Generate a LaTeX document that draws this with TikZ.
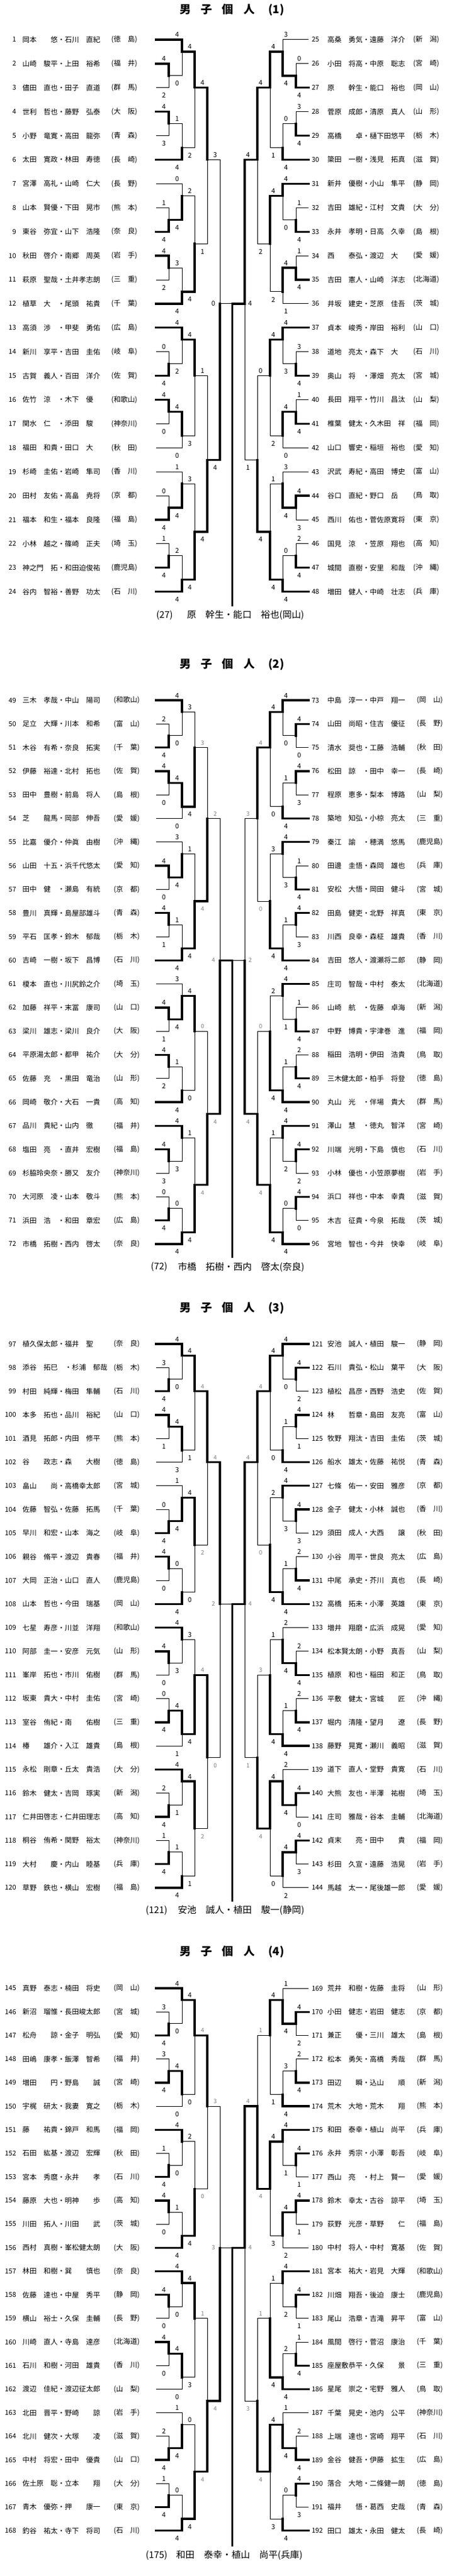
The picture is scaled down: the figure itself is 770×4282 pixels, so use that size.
\documentclass[tikz,border=0pt]{standalone}
\usepackage{fontspec}
\newfontfamily\jpf{Noto Sans CJK JP}

\tikzset{
  ent/.style={inner sep=0pt, font=\jpf\fontsize{8.8pt}{10pt}\selectfont},
  entno/.style={inner sep=0pt, font=\jpf\fontsize{8.4pt}{10pt}\selectfont},
  sc/.style={inner sep=0pt, font=\jpf\fontsize{8.4pt}{10pt}\selectfont},
  scg/.style={inner sep=0pt, text=black!50, font=\jpf\fontsize{7.4pt}{9pt}\selectfont},
  hs/.style={sc},
  lose/.style={line width=0.75pt},
  win/.style={line width=2.5pt, line cap=rect},
  ttl/.style={inner sep=0pt, font=\jpf\bfseries\fontsize{14pt}{16pt}\selectfont},
  capt/.style={inner sep=0pt, font=\jpf\fontsize{11.5pt}{13pt}\selectfont}
}

% one match: x top start, x bottom start, x junction, rows top/bottom/out, scores, label style
\newcommand\mtch[9]{%
  \pgfmathsetmacro\yt{\yo+\dy*(#4)}%
  \pgfmathsetmacro\yb{\yo+\dy*(#5)}%
  \pgfmathsetmacro\yu{\yo+\dy*(#6)}%
  \ifnum#7>#8\relax
    \draw[lose] (#2,\yb) -- (#3,\yb) -- (#3,\yu);
    \draw[win] (#1,\yt) -- (#3,\yt) -- (#3,\yu);
  \else
    \draw[lose] (#1,\yt) -- (#3,\yt) -- (#3,\yu);
    \draw[win] (#2,\yb) -- (#3,\yb) -- (#3,\yu);
  \fi
  \node[#9] at (#3-\lo,\yt-8) {#7};
  \node[#9] at (#3-\lo,\yb+13) {#8};
}

% one half of a draw: 4 groups of 6, then the two rounds above them
\newcommand\halfbr[4]{%
  \foreach \gb/\go/\qa/\qb/\qc/\qd/\qe/\qf/\qg/\qh/\qi/\qj in {#1}{
    \mtch{259}{259}{280}{\gb+1}{\gb+2}{\gb+1.5}{\qa}{\qb}{sc}
    \mtch{259}{280}{302}{\gb}{\gb+1.5}{\gb+0.5}{\qc}{\qd}{sc}
    \mtch{259}{259}{280}{\gb+3}{\gb+4}{\gb+3.5}{\qe}{\qf}{sc}
    \mtch{280}{259}{302}{\gb+3.5}{\gb+5}{\gb+4.5}{\qg}{\qh}{sc}
    \mtch{302}{302}{323}{\gb+0.5}{\gb+4.5}{\go}{\qi}{\qj}{sc}
  }
  \mtch{323}{323}{344}{2}{8.5}{5}#2{hs}
  \mtch{323}{323}{344}{14}{20.5}{17.5}#3{hs}
  \mtch{344}{344}{365}{5}{17.5}{11}#4{hs}
}

\newcommand\finalm[2]{%
  \pgfmathsetmacro\yf{\yo+\dy*11}%
  \ifnum#1>#2\relax
    \draw[lose] (406,\yf) -- (385.5,\yf);
    \draw[win] (365,\yf) -- (385.5,\yf) -- (385.5,\ye);
  \else
    \draw[lose] (365,\yf) -- (385.5,\yf);
    \draw[win] (406,\yf) -- (385.5,\yf) -- (385.5,\ye);
  \fi
  \node[hs] at (354,\yf) {#1};
  \node[hs] at (415,\yf) {#2};
}

\newcommand\entL[2]{%
  \foreach \nm/\pf [count=\k from 0] in {#2}{
    \pgfmathsetmacro\yy{\yo+\dy*\k}
    \pgfmathtruncatemacro\nn{#1+\k}
    \node[entno, anchor=east] (n\nn) at (27,\yy) {\nn};
    \node[ent, anchor=west] (e\nn) at (37,\yy) {\nm};
    \node[ent, anchor=east] (p\nn) at (\pl,\yy) {(\pf)};
  }
}
\newcommand\entR[2]{%
  \foreach \nm/\pf [count=\k from 0] in {#2}{
    \pgfmathsetmacro\yy{\yo+\dy*\k}
    \pgfmathtruncatemacro\nn{#1+\k}
    \node[entno, anchor=west] (n\nn) at (517,\yy) {\nn};
    \node[ent, anchor=west] (e\nn) at (543,\yy) {\nm};
    \node[ent, anchor=east] (p\nn) at (\pr,\yy) {(\pf)};
  }
}

\begin{document}
\begin{tikzpicture}[x=0.75pt, y=-0.75pt]
\fill[white] (0,0) rectangle (770,4282);
\useasboundingbox (0,0) rectangle (770,4282);
\def\lo{8}

% ---------- (1)
\def\yo{66}\def\dy{39.9}\def\ye{1006}\def\pl{228}\def\pr{729}
\tikzset{hs/.style={sc}}
\node[ttl] (t1) at (385,16) {男\hspace{12.5pt}子\hspace{12.5pt}個\hspace{12.5pt}人\hspace{17pt}(1)};
\halfbr{0/2/4/2/4/0/4/3/1/4/4/2, 6/8.5/1/4/0/4/4/2/3/4/2/4,
  12/14/0/4/4/2/4/0/4/0/4/3, 18/20.5/0/4/1/4/1/4/2/4/3/4}{{4}{1}}{{1}{4}}{{3}{4}}
\begin{scope}[shift={(771,0)}, xscale=-1]
\def\lo{5.5}
\halfbr{0/2/0/4/3/4/3/4/0/4/4/1, 6/8.5/1/4/4/0/1/4/4/1/4/2,
  12/14/3/4/4/3/1/4/4/0/4/2, 18/20.5/4/3/3/4/2/4/0/4/1/4}{{4}{2}}{{0}{4}}{{4}{1}}
\end{scope}
\finalm{0}{4}
\entL{1}{岡本　　悠・石川　直紀/徳　島,
山崎　駿平・上田　裕希/福　井,
儘田　直也・田子　直道/群　馬,
世利　哲也・藤野　弘泰/大　阪,
小野　竜寛・高田　龍弥/青　森,
太田　寛政・林田　寿徳/長　崎,
宮澤　高礼・山崎　仁大/長　野,
山本　賢優・下田　晃市/熊　本,
東谷　弥宜・山下　浩隆/奈　良,
秋田　啓介・南郷　周英/岩　手,
萩原　聖哉・土井孝志朗/三　重,
植草　大　・尾頭　祐貴/千　葉,
高須　渉　・甲斐　勇佑/広　島,
新川　享平・吉田　圭佑/岐　阜,
古賀　義人・百田　洋介/佐　賀,
佐竹　涼　・木下　優　/和歌山,
関水　仁　・添田　駿　/神奈川,
福田　和貴・田口　大　/秋　田,
杉崎　圭佑・岩崎　隼司/香　川,
田村　友佑・高畠　尭将/京　都,
福本　和生・福本　良隆/福　島,
小林　越之・篠崎　正夫/埼　玉,
神之門　拓・和田迫俊祐/鹿児島,
谷内　智裕・善野　功太/石　川}
\entR{25}{高桑　勇気・遠藤　洋介/新　潟,
小田　将高・中原　聡志/宮　崎,
原　　幹生・能口　裕也/岡　山,
菅原　成郎・清原　真人/山　形,
高橋　　卓・樋下田悠平/栃　木,
簗田　一樹・浅見　拓真/滋　賀,
新井　優樹・小山　隼平/静　岡,
吉田　雄紀・江村　文貴/大　分,
永井　孝明・日高　久幸/島　根,
西　　泰弘・渡辺　大　/愛　媛,
吉田　憲人・山崎　洋志/北海道,
井坂　建史・芝原　佳吾/茨　城,
貞本　峻秀・岸田　裕利/山　口,
道地　亮太・森下　大　/石　川,
奥山　将　・澤畑　亮太/宮　城,
長田　翔平・竹川　昌汰/山　梨,
椎葉　健太・久木田　祥/福　岡,
山口　響史・稲垣　裕也/愛　知,
沢武　寿紀・高田　博史/富　山,
谷口　直紀・野口　岳　/鳥　取,
西川　佑也・菅佐原寛将/東　京,
国見　涼　・笠原　翔也/高　知,
城間　直樹・安里　和哉/沖　縄,
増田　健人・中崎　壮志/兵　庫}
\node[capt, anchor=east] (w1n) at (287,1023) {(27)};
\node[capt, anchor=west] (w1) at (310,1023) {原　幹生・能口　裕也(岡山)};

% ---------- (2)
\def\yo{1164}\def\dy{39.3}\def\ye{2089}\def\pl{232}\def\pr{735}
\tikzset{hs/.style={scg}}
\node[ttl] (t2) at (385,1104) {男\hspace{12.5pt}子\hspace{12.5pt}個\hspace{12.5pt}人\hspace{17pt}(2)};
\halfbr{0/2/2/4/4/0/4/0/4/0/3/4, 6/8.5/4/0/3/4/4/1/1/4/1/4,
  12/14/4/1/3/4/4/2/1/4/4/0, 18/20.5/4/3/4/3/0/4/0/4/1/4}{{3}{4}}{{0}{4}}{{2}{4}}
\begin{scope}[shift={(771,0)}, xscale=-1]
\def\lo{5.5}
\halfbr{0/2/4/0/4/0/4/3/1/4/4/0, 6/8.5/1/4/4/3/4/3/1/4/3/4,
  12/14/1/4/4/1/2/4/1/4/2/4, 18/20.5/4/2/4/2/4/0/0/4/1/4}{{4}{0}}{{0}{4}}{{3}{4}}
\end{scope}
\finalm{4}{2}
\entL{49}{三木　孝哉・中山　陽司/和歌山,
足立　大輝・川本　和希/富　山,
木谷　有希・奈良　拓実/千　葉,
伊藤　裕達・北村　拓也/佐　賀,
田中　豊樹・前島　将人/島　根,
芝　　龍馬・岡部　伸吾/愛　媛,
比嘉　優介・仲眞　由樹/沖　縄,
山田　十五・浜千代悠太/愛　知,
田中　健　・瀬島　有統/京　都,
豊川　真輝・島屋部雄斗/青　森,
平石　匡孝・鈴木　郁哉/栃　木,
吉崎　一樹・坂下　昌博/石　川,
榎本　直也・川尻鈴之介/埼　玉,
加藤　祥平・末冨　康司/山　口,
梁川　雄志・梁川　良介/大　阪,
平原湯太郎・都甲　祐介/大　分,
佐藤　充　・黒田　竜治/山　形,
岡崎　敬介・大石　一貴/高　知,
品川　貴紀・山内　徹　/福　井,
塩田　亮　・直井　宏樹/福　島,
杉脇玲央奈・勝又　友介/神奈川,
大河原　凌・山本　敬斗/熊　本,
浜田　浩　・和田　章宏/広　島,
市橋　拓樹・西内　啓太/奈　良}
\entR{73}{中島　淳一・中戸　翔一/岡　山,
山田　尚昭・住吉　優征/長　野,
清水　奨也・工藤　浩輔/秋　田,
松田　諒　・田中　幸一/長　崎,
程原　恵多・梨本　博路/山　梨,
築地　知弘・小椋　亮太/三　重,
秦江　諭　・穂満　悠馬/鹿児島,
田邊　圭悟・森岡　雄也/兵　庫,
安松　大悟・岡田　健斗/宮　城,
田島　健吏・北野　祥真/東　京,
川西　良幸・森柾　雄貴/香　川,
吉田　悠人・渡瀬将二郎/静　岡,
庄司　智哉・中村　泰太/北海道,
山崎　航　・佐藤　卓海/新　潟,
中野　博貴・宇津巻　進/福　岡,
稲田　浩明・伊田　浩貴/鳥　取,
三木健太郎・柏手　将登/徳　島,
丸山　光　・伴場　貴大/群　馬,
澤山　慧　・徳丸　智洋/宮　崎,
川端　光明・下島　慎也/石　川,
小林　優也・小笠原夢樹/岩　手,
浜口　祥也・中本　幸貴/滋　賀,
木吉　征貴・今泉　拓哉/茨　城,
宮地　智也・今井　快幸/岐　阜}
\node[capt, anchor=east] (w2n) at (278,2106) {(72)};
\node[capt, anchor=west] (w2) at (295,2106) {市橋　拓樹・西内　啓太(奈良)};

% ---------- (3)
\def\yo{2234}\def\dy{39.3}\def\ye{3159}\def\pl{232}\def\pr{735}
\node[ttl] (t3) at (385,2174) {男\hspace{12.5pt}子\hspace{12.5pt}個\hspace{12.5pt}人\hspace{17pt}(3)};
\halfbr{0/2/3/4/4/0/4/1/4/3/4/1, 6/8.5/0/4/1/4/4/0/0/4/4/0,
  12/14/4/0/4/3/0/4/4/1/3/4, 18/20.5/2/4/4/1/1/4/1/4/4/1}{{4}{2}}{{4}{2}}{{4}{0}}
\begin{scope}[shift={(771,0)}, xscale=-1]
\def\lo{5.5}
\halfbr{0/2/4/2/4/0/4/1/1/4/4/0, 6/8.5/4/3/4/3/2/4/1/4/2/4,
  12/14/2/4/2/4/2/4/1/4/1/4, 18/20.5/4/0/2/4/4/3/4/2/4/0}{{4}{0}}{{3}{4}}{{4}{1}}
\end{scope}
\finalm{2}{4}
\entL{97}{植久保太郎・福井　聖　/奈　良,
添谷　拓巳　・杉浦　郁哉/栃　木,
村田　純輝・梅田　隼輔/石　川,
本多　拓也・品川　裕紀/山　口,
酒見　拓郎・内田　修平/熊　本,
谷　　政志・森　　大樹/徳　島,
畠山　　尚・高橋幸太郎/宮　城,
佐藤　智弘・佐藤　拓馬/千　葉,
早川　和宏・山本　海之/岐　阜,
親谷　脩平・渡辺　貴春/福　井,
大岡　正治・山口　直人/鹿児島,
山本　哲也・今田　瑞基/岡　山,
七星　寿彦・川並　洋翔/和歌山,
阿部　圭一・安彦　元気/山　形,
峯岸　拓也・市川　佑樹/群　馬,
坂東　貴大・中村　圭佑/宮　崎,
室谷　侑紀・南　　佑樹/三　重,
椿　　雄介・入江　雄貴/島　根,
永松　剛章・丘太　貴浩/大　分,
鈴木　健太・吉岡　琢実/新　潟,
仁井田啓志・仁井田理志/高　知,
桐谷　侑希・関野　裕太/神奈川,
大村　　慶・内山　睦基/兵　庫,
草野　鉄也・横山　宏樹/福　島}
\entR{121}{安池　誠人・植田　駿一/静　岡,
石川　貴弘・松山　葉平/大　阪,
植松　昌彦・西野　浩史/佐　賀,
林　　哲章・島田　友亮/富　山,
牧野　翔汰・吉田　圭佑/茨　城,
船水　雄太・佐藤　祐悦/青　森,
七條　佑一・安田　雅彦/京　都,
金子　健太・小林　誠也/香　川,
須田　成人・大西　　譲/秋　田,
小谷　周平・世良　亮太/広　島,
中尾　承史・芥川　真也/長　崎,
高橋　拓未・小澤　英雄/東　京,
増井　翔磨・広浜　成晃/愛　知,
松本賢太朗・小野　真吾/山　梨,
植原　和也・稲田　和正/鳥　取,
平敷　健太・宮城　　匠/沖　縄,
堀内　清隆・望月　　遼/長　野,
藤野　晃寛・瀬川　義昭/滋　賀,
道下　直人・堂野　貴寛/石　川,
大熊　友也・半澤　祐樹/埼　玉,
庄司　雅哉・谷本　圭輔/北海道,
貞末　　亮・田中　　貴/福　岡,
杉田　久宣・遠藤　浩晃/岩　手,
馬越　太一・尾後雄一郎/愛　媛}
\node[capt, anchor=east] (w3n) at (278,3176) {(121)};
\node[capt, anchor=west] (w3) at (295,3176) {安池　誠人・植田　駿一(静岡)};

% ---------- (4)
\def\yo{3305}\def\dy{39.2}\def\ye{4231}\def\pl{232}\def\pr{735}
\node[ttl] (t4) at (385,3244) {男\hspace{12.5pt}子\hspace{12.5pt}個\hspace{12.5pt}人\hspace{17pt}(4)};
\halfbr{0/2/3/4/4/0/3/4/4/0/4/0, 6/8.5/1/4/4/0/4/0/1/4/2/4,
  12/14/4/0/4/0/4/0/4/0/4/3, 18/20.5/2/4/1/4/1/4/0/4/0/4}{{4}{0}}{{1}{4}}{{3}{4}}
\begin{scope}[shift={(771,0)}, xscale=-1]
\def\lo{5.5}
\halfbr{0/2/4/2/1/4/2/4/3/4/4/1, 6/8.5/4/1/4/1/4/1/4/2/4/3,
  12/14/4/1/4/2/1/4/2/4/1/4, 18/20.5/2/4/1/4/4/3/0/4/4/3}{{1}{4}}{{1}{4}}{{4}{3}}
\end{scope}
\finalm{3}{4}
\entL{145}{真野　泰志・楠田　将史/岡　山,
新沼　瑠惟・長田峻太郎/宮　城,
松舟　　諒・金子　明弘/愛　知,
田嶋　康孝・飯澤　智希/福　井,
増田　　円・野島　　誠/宮　崎,
宇梶　研太・我妻　寛之/栃　木,
藤　　祐貴・錦戸　和馬/福　岡,
石田　紘基・渡辺　宏輝/秋　田,
宮本　秀麿・永井　　孝/石　川,
藤原　大也・明神　　歩/高　知,
川田　拓人・川田　　武/茨　城,
西村　真樹・峯松健太朗/大　阪,
林田　和樹・巽　　慎也/奈　良,
佐藤　達也・中屋　秀平/静　岡,
横山　裕士・久保　圭輔/長　野,
川崎　直人・寺島　達彦/北海道,
石川　和樹・河田　雄貴/香　川,
渡辺　佳紀・渡辺征太郎/山　梨,
北田　晋平・野崎　　諒/岩　手,
北川　健次・大塚　　凌/滋　賀,
中村　将宏・田中　優貴/山　口,
佐土原　聡・立本　　翔/大　分,
青木　優弥・押　　康一/東　京,
釣谷　祐太・寺下　将司/石　川}
\entR{169}{荒井　和樹・佐藤　圭将/山　形,
小田　健志・岩田　健志/京　都,
兼正　　優・三川　雄太/島　根,
松本　勇矢・高橋　秀哉/群　馬,
田辺　　瞬・込山　　順/新　潟,
荒木　大地・荒木　　翔/熊　本,
和田　泰幸・植山　尚平/兵　庫,
永井　秀宗・小澤　彰吾/岐　阜,
西山　亮　・村上　賢一/愛　媛,
鈴木　幸太・古谷　諒平/埼　玉,
荻野　光彦・草野　　仁/福　島,
中村　将人・中村　寛基/佐　賀,
宮本　祐大・岩見　大輝/和歌山,
川畑　翔吾・後迫　康士/鹿児島,
尾山　浩章・吉滝　昇平/富　山,
風間　啓行・菅沼　康治/千　葉,
座屋敷恭平・久保　　景/三　重,
星尾　崇之・宅野　雅人/鳥　取,
千葉　晃史・池内　公平/神奈川,
上端　達也・宮崎　翔平/石　川,
金谷　健吾・伊藤　拡生/広　島,
落合　大地・二條健一朗/徳　島,
福井　　悟・葛西　史哉/青　森,
田口　雄太・永田　健太/長　崎}
\node[capt, anchor=east] (w4n) at (278,4248) {(175)};
\node[capt, anchor=west] (w4) at (292,4248) {和田　泰幸・植山　尚平(兵庫)};
\end{tikzpicture}
\end{document}
